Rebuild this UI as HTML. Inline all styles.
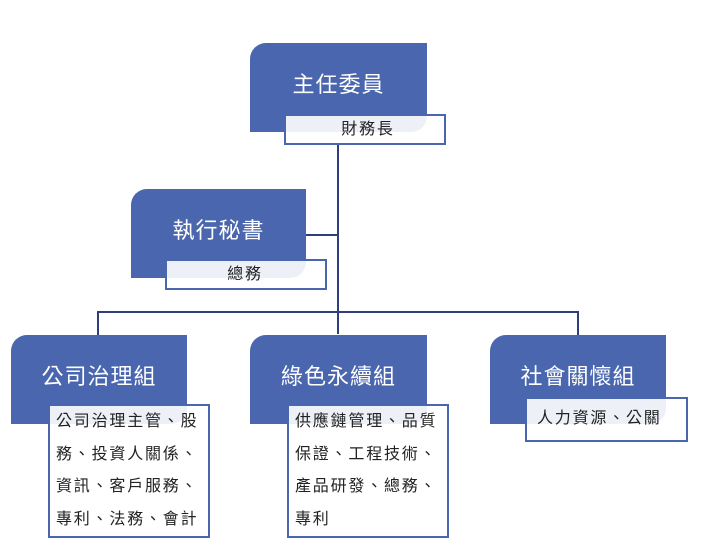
<!DOCTYPE html>
<html><head><meta charset="utf-8"><style>
body{margin:0;width:711px;height:558px;background:#fff;position:relative;overflow:hidden;font-family:"Liberation Sans","Noto Sans CJK TC",sans-serif}
.b{position:absolute;background:#4a66ae;border-radius:16px 0 16px 0;color:#fff;font-size:22px;display:flex;justify-content:center;padding-top:24px;box-sizing:border-box;letter-spacing:1px}
.s{position:absolute;background:rgba(255,255,255,0.9);border:2px solid #4a66ae;box-sizing:border-box;color:#222;font-size:16px;letter-spacing:1.8px}
.l{position:absolute;background:#2e3f7a}
</style></head><body>
<div class="l" style="left:337px;top:144px;width:2px;height:190px"></div>
<div class="l" style="left:306px;top:234px;width:32px;height:2px"></div>
<div class="l" style="left:97px;top:311px;width:482px;height:2px"></div>
<div class="l" style="left:97px;top:311px;width:2px;height:24px"></div>
<div class="l" style="left:577px;top:311px;width:2px;height:24px"></div>

<div class="b" style="left:250px;top:43px;width:177px;height:89px">主任委員</div>
<div class="s" style="left:284px;top:114px;width:162px;height:31px;text-align:center;line-height:28px;padding-left:6px">財務長</div>

<div class="b" style="left:131px;top:189px;width:175px;height:89px">執行秘書</div>
<div class="s" style="left:165px;top:259px;width:162px;height:31px;text-align:center;line-height:28px;padding-right:2px">總務</div>

<div class="b" style="left:11px;top:335px;width:176px;height:89px">公司治理組</div>
<div class="s" style="left:48px;top:404px;width:162px;height:134px;padding:0 0 0 6px;line-height:32.5px">公司治理主管、股<br>務、投資人關係、<br>資訊、客戶服務、<br>專利、法務、會計</div>

<div class="b" style="left:250px;top:335px;width:177px;height:89px">綠色永續組</div>
<div class="s" style="left:287px;top:404px;width:162px;height:134px;padding:0 0 0 6px;line-height:32.5px">供應鏈管理、品質<br>保證、工程技術、<br>產品研發、總務、<br>專利</div>

<div class="b" style="left:490px;top:335px;width:176px;height:89px">社會關懷組</div>
<div class="s" style="left:525px;top:397px;width:163px;height:45px;padding:0 0 0 10px;line-height:40px">人力資源、公關</div>
</body></html>
